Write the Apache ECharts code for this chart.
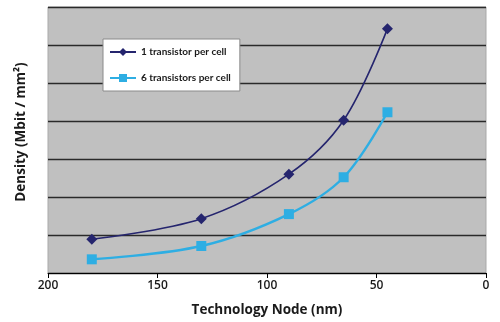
<!DOCTYPE html>
<html>
<head>
<meta charset="utf-8">
<script src="https://cdn.jsdelivr.net/npm/echarts@6/dist/echarts.min.js"></script>
<style>html,body{margin:0;padding:0;background:#fff}#c{width:500px;height:322px}</style>
</head>
<body>
<div id="c"></div>
<script>
const nodes = [180, 130, 90, 65, 45];
const oneTransistor = [0.89, 1.43, 2.6, 4.02, 6.43];
const sixTransistors = [0.36, 0.71, 1.55, 2.52, 4.23];
const seriesNames = ['1 transistor per cell', '6 transistors per cell'];
const xTicks = [0, 50, 100, 150, 200];

const font = '"Open Sans", sans-serif';
const chart = echarts.init(document.getElementById('c'));
chart.setOption({
  animation: false,
  grid: {left: 48, right: 14, top: 7, bottom: 48, show: true, backgroundColor: '#c0c0c0', borderColor: '#a9a9a9', borderWidth: 1},
  legend: {
    orient: 'vertical', left: 103, top: 39,
    backgroundColor: '#ffffff', borderColor: '#8a8a8a', borderWidth: 1,
    padding: [8, 9, 8, 6], itemGap: 16, itemWidth: 26, itemHeight: 10,
    textStyle: {fontFamily: 'Lato, sans-serif', fontSize: 10, fontWeight: 'bold', color: '#1a1a1a'},
    data: seriesNames
  },
  xAxis: {
    type: 'value', inverse: true, min: 0, max: 200, interval: 50,
    name: 'Technology Node (nm)', nameLocation: 'middle', nameGap: 30,
    nameTextStyle: {fontFamily: font, fontSize: 13.5, fontWeight: 'bold', color: '#1a1a1a'},
    axisLine: {show: true, lineStyle: {color: '#000', width: 1}},
    axisTick: {show: true, length: 5, lineStyle: {color: '#000'}},
    axisLabel: {fontFamily: font, fontSize: 12, fontWeight: 600, color: '#1a1a1a', margin: 7,
      formatter: v => xTicks.includes(v) ? String(v) : ''},
    splitLine: {show: false}
  },
  yAxis: {
    type: 'value', min: 0, max: 7, interval: 1,
    name: 'Density (Mbit / mm²)', nameLocation: 'middle', nameGap: 20,
    nameTextStyle: {fontFamily: font, fontSize: 13.5, fontWeight: 'bold', color: '#1a1a1a', padding: [0, 0, 0, 16]},
    axisLine: {show: false}, axisTick: {show: false}, axisLabel: {show: false},
    splitLine: {show: true, lineStyle: {color: '#2a2a2a', width: 1.3}}
  },
  series: [
    {
      name: seriesNames[0], type: 'line', smooth: 0.35,
      data: nodes.map((n, i) => [n, oneTransistor[i]]),
      symbol: 'diamond', symbolSize: 11,
      lineStyle: {color: '#25256e', width: 1.6},
      itemStyle: {color: '#25256e'}
    },
    {
      name: seriesNames[1], type: 'line', smooth: 0.35,
      data: nodes.map((n, i) => [n, sixTransistors[i]]),
      symbol: 'rect', symbolSize: 10,
      lineStyle: {color: '#2eaee3', width: 2.4},
      itemStyle: {color: '#2eaee3'}
    }
  ]
});
</script>
</body>
</html>
